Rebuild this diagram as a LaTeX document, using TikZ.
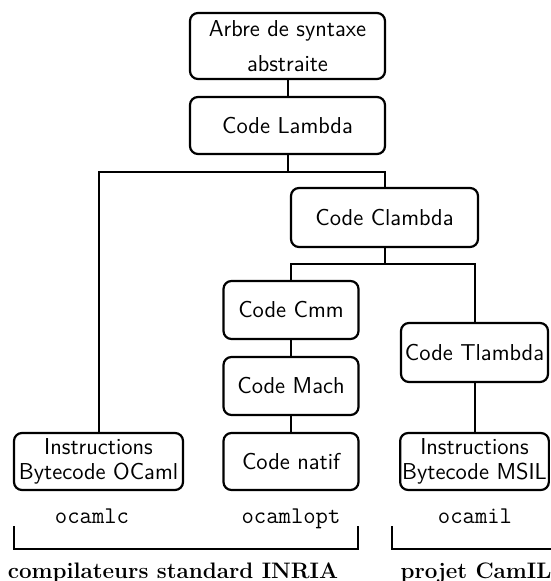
\documentclass[tikz,border=0pt]{standalone}
\usepackage{fontspec}
\usepackage{tikz}
\usetikzlibrary{calc}

\begin{document}
\begin{tikzpicture}[x=0.5pt,y=-0.5pt,
	codebox/.style={draw, line width=1.1pt, rounded corners=4pt, align=center,
		inner sep=1pt, font=\sffamily\fontsize{11.5}{12.5}\selectfont},
	link/.style={line width=1pt},
	tool/.style={anchor=base, font=\ttfamily\fontsize{12}{14}\selectfont},
	team/.style={anchor=base, font=\bfseries\fontsize{11.2}{13}\selectfont}]

	% ---- frame

	\useasboundingbox (0,0) rectangle (550,581);

	% ---- boxes

	\node[codebox, minimum width=97.5pt, minimum height=33pt,
		font=\sffamily\fontsize{11.5}{17.5}\selectfont] (arbre) at (287.5,46)
		{Arbre de syntaxe\\abstraite};
	\node[codebox, minimum width=97.5pt, minimum height=28.5pt] (lambda) at (287.5,125.5) {Code Lambda};
	\node[codebox, minimum width=93.5pt, minimum height=29.5pt] (clambda) at (384.5,217.5) {Code Clambda};

	\node[codebox, minimum width=67.5pt, minimum height=29pt] (cmm) at (291,310) {Code Cmm};
	\node[codebox, minimum width=67.5pt, minimum height=29pt] (mach) at (291,386) {Code Mach};
	\node[codebox, minimum width=67.5pt, minimum height=28.5pt] (natif) at (291,461.5) {Code natif};

	\node[codebox, minimum width=84.5pt, minimum height=28.5pt] (ocaml) at (98.5,461.5)
		{Instructions\\Bytecode OCaml};

	\node[codebox, minimum width=73.5pt, minimum height=29.5pt] (tlambda) at (474.5,352.5) {Code Tlambda};
	\node[codebox, minimum width=73.5pt, minimum height=28.5pt] (msil) at (474.5,461.5)
		{Instructions\\Bytecode MSIL};

	% ---- branch points

	\coordinate (j1) at (0,172);
	\coordinate (j2) at (0,264);

	% ---- links

	\draw[link] (arbre) -- (lambda);
	\draw[link] (lambda.south) -- (lambda.south |- j1);
	\draw[link] (ocaml.north) |- (clambda.north |- j1) -- (clambda.north);
	\draw[link] (clambda.south) -- (clambda.south |- j2);
	\draw[link] (cmm.north) |- (tlambda.north |- j2) -- (tlambda.north);
	\draw[link] (cmm) -- (mach);
	\draw[link] (mach) -- (natif);
	\draw[link] (tlambda) -- (msil);

	% ---- compilers

	\node[tool] (ocamlc) at (92,523) {ocamlc};
	\node[tool] (ocamlopt) at (291,523) {ocamlopt};
	\node[tool] (ocamil) at (475,523) {ocamil};

	% ---- brackets

	\coordinate (b1) at (14,526);
	\coordinate (b2) at (358,526);
	\coordinate (b3) at (392,526);
	\coordinate (b4) at (551,549);

	\draw[line width=1.1pt] (b1) -- ++(0,23) -| (b2);
	\draw[line width=1.1pt] (b3) |- (b4);

	\node[team] (inria) at (173,578) {compilateurs standard INRIA};
	\node[team] (camil) at (476,578) {projet CamIL};

\end{tikzpicture}
\end{document}
